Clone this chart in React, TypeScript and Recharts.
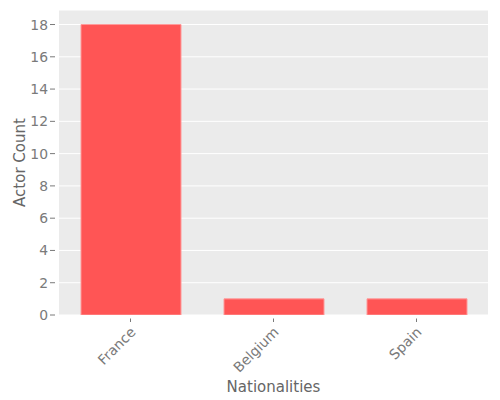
import React from 'react';
import { BarChart, Bar, XAxis, YAxis, CartesianGrid } from 'recharts';

const nationalities = ['France', 'Belgium', 'Spain'];
const actorCounts = [18, 1, 1];
const yTicks = [0, 2, 4, 6, 8, 10, 12, 14, 16, 18];

const data = nationalities.map((n, i) => ({ name: n, count: actorCounts[i] }));

const FONT = 'DejaVu Sans';
const TICK_GRAY = '#7a7a7a';
const LABEL_GRAY = '#666666';

const YTick = (props: any) => {
  const { x, y, payload } = props;
  return (
    <g>
      <line x1={x - 9} x2={x - 4} y1={y} y2={y} stroke={TICK_GRAY} strokeWidth={1} />
      <text x={x - 11} y={y} dy="0.36em" textAnchor="end" style={{ fontFamily: FONT }} fontSize={13.9} fill={TICK_GRAY}>
        {payload.value}
      </text>
    </g>
  );
};

const XTick = (props: any) => {
  const { x, y, payload } = props;
  const ax = x + 6;
  const ay = y + 18;
  return (
    <g>
      <line x1={x} x2={x} y1={y + 3.5} y2={y + 7} stroke={TICK_GRAY} strokeWidth={1} />
      <text x={ax} y={ay} textAnchor="end" transform={`rotate(-45, ${ax}, ${ay})`} style={{ fontFamily: FONT }} fontSize={13.9} fill={TICK_GRAY}>
        {payload.value}
      </text>
    </g>
  );
};

export default function App() {
  return (
    <div style={{ position: 'absolute', left: 0, top: 0, width: 500, height: 400, background: '#fff' }}>
      <BarChart width={500} height={400} data={data} margin={{ top: 10, right: 12, left: 0, bottom: 0 }}>
        <CartesianGrid vertical={false} stroke="#FFFFFF" strokeWidth={1} fill="#EBEBEB" fillOpacity={1} />
        <XAxis
          dataKey="name"
          height={85}
          axisLine={false}
          tickLine={false}
          tickSize={0}
          tickMargin={0}
          interval={0}
          tick={<XTick />}
          label={{
            content: (p: any) => {
              const vb = p.viewBox;
              return (
                <text x={vb.x + vb.width / 2} y={vb.y + 76.5} textAnchor="middle" style={{ fontFamily: FONT }} fontSize={15} fill={LABEL_GRAY}>
                  Nationalities
                </text>
              );
            },
          }}
        />
        <YAxis
          width={59}
          domain={[0, 18.9]}
          ticks={yTicks}
          allowDataOverflow
          axisLine={false}
          tickLine={false}
          tickSize={0}
          tickMargin={0}
          tick={<YTick />}
          label={{
            content: (p: any) => {
              const vb = p.viewBox;
              const cx = 25;
              const cy = vb.y + vb.height / 2;
              return (
                <text x={cx} y={cy} textAnchor="middle" transform={`rotate(-90, ${cx}, ${cy})`} style={{ fontFamily: FONT }} fontSize={15} fill={LABEL_GRAY}>
                  Actor Count
                </text>
              );
            },
          }}
        />
        <Bar dataKey="count" barSize={100} fill="#FF5555" stroke="#FF9A9A" strokeWidth={1} isAnimationActive={false} />
      </BarChart>
    </div>
  );
}
